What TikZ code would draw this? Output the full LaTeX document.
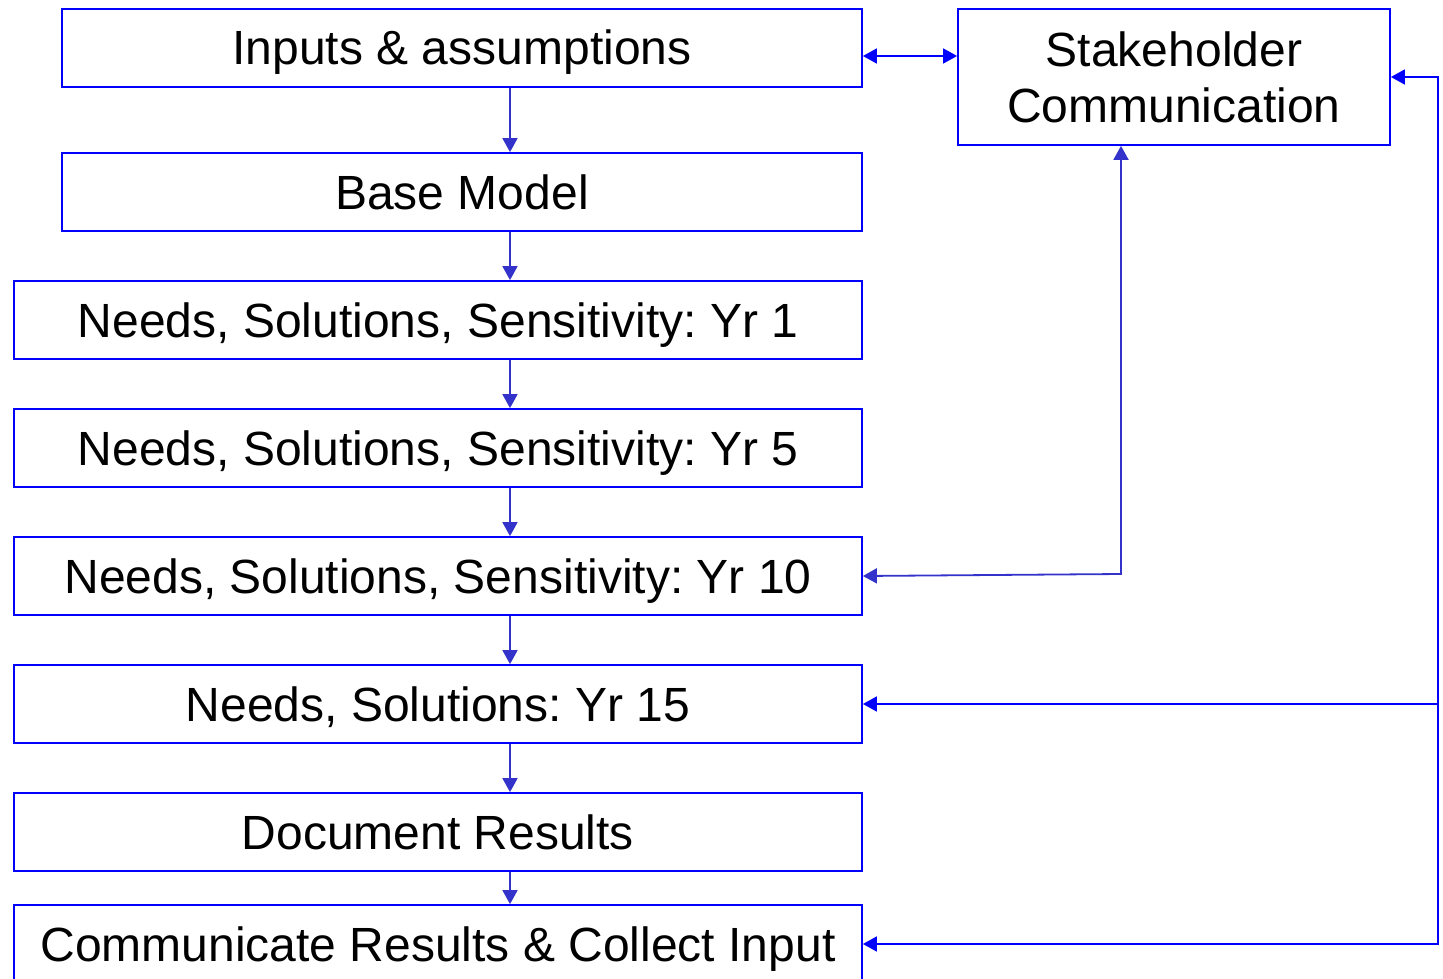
\documentclass[tikz,border=0pt]{standalone}
\usepackage{fontspec}
\setmainfont{Liberation Sans}
\usetikzlibrary{arrows.meta}
\frenchspacing
\definecolor{boxblue}{RGB}{0,0,255}
\definecolor{arrblue}{RGB}{51,51,204}
\tikzset{
  box/.style={draw=boxblue, line width=1.8pt, fill=white, inner sep=0pt, align=center,
    font=\fontsize{48}{56}\selectfont},
  wide/.style={box, minimum width=848pt, minimum height=78pt, text height=44pt, text depth=10pt},
  narrow/.style={box, minimum width=800pt, minimum height=78pt, text height=44pt, text depth=10pt},
  conn/.style={draw=arrblue, line width=1.8pt, -{Triangle[length=14pt,width=15pt]}},
  fb/.style={draw=boxblue, line width=1.8pt},
  tip/.style={-{Triangle[length=14pt,width=15pt]}},
}
\begin{document}
\begin{tikzpicture}[x=1pt,y=-1pt]
\clip (0,0) rectangle (1443,979);
\fill[white] (0,0) rectangle (1443,979);
\node[narrow] (inputs) at (462,48) {Inputs \& assumptions};
\node[narrow] (base) at (462,192) {Base Model};
\node[wide] (yr1) at (438,320) {Needs, Solutions, Sensitivity: Yr 1};
\node[wide] (yr5) at (438,448) {Needs, Solutions, Sensitivity: Yr 5};
\node[wide] (yr10) at (438,576) {Needs, Solutions, Sensitivity: Yr 10};
\node[wide] (yr15) at (438,704) {Needs, Solutions: Yr 15};
\node[wide] (doc) at (438,832) {Document Results};
\node[wide] (comm) at (438,944) {Communicate Results \& Collect Input};
\node[box, minimum width=432pt, minimum height=136pt] (stake) at (1174,77) {Stakeholder\\Communication};
\coordinate (ax) at (510,0);
\draw[conn] (inputs.south -| ax) -- (base.north -| ax);
\draw[conn] (base.south -| ax) -- (yr1.north -| ax);
\draw[conn] (yr1.south -| ax) -- (yr5.north -| ax);
\draw[conn] (yr5.south -| ax) -- (yr10.north -| ax);
\draw[conn] (yr10.south -| ax) -- (yr15.north -| ax);
\draw[conn] (yr15.south -| ax) -- (doc.north -| ax);
\draw[conn] (doc.south -| ax) -- (comm.north -| ax);
\coordinate (d) at (910,56);
\draw[fb, {Triangle[length=14pt,width=15pt]}-{Triangle[length=14pt,width=15pt]}] (inputs.east |- d) -- (stake.west |- d);
\coordinate (c10) at (1121,574);
\draw[draw=arrblue, line width=1.8pt, {Triangle[length=14pt,width=15pt]}-{Triangle[length=14pt,width=15pt]}] (yr10.east) -- (c10) -- (stake.south -| c10);
\coordinate (r1) at (1438,77);
\coordinate (r2) at (1438,704);
\coordinate (r3) at (1438,944);
\draw[fb, {Triangle[length=14pt,width=15pt]}-{Triangle[length=14pt,width=15pt]}] (stake.east) -- (r1) -- (r3) -- (comm.east);
\draw[fb, tip] (r2) -- (yr15.east);
\end{tikzpicture}
\end{document}
